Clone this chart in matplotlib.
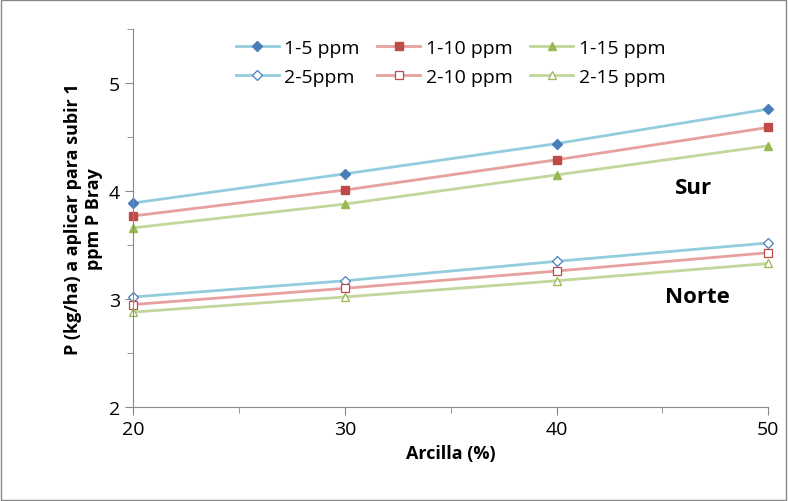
import matplotlib.pyplot as plt
from matplotlib.ticker import MultipleLocator

arcilla = [20, 30, 40, 50]
s1_5 = [3.89, 4.16, 4.44, 4.76]
s1_10 = [3.77, 4.01, 4.29, 4.59]
s1_15 = [3.66, 3.88, 4.15, 4.42]
s2_5 = [3.02, 3.17, 3.35, 3.52]
s2_10 = [2.95, 3.10, 3.26, 3.43]
s2_15 = [2.88, 3.02, 3.17, 3.33]
labels = ["1-5 ppm", "1-10 ppm", "1-15 ppm", "2-5ppm", "2-10 ppm", "2-15 ppm"]

plt.rcParams['font.family'] = ['Open Sans', 'DejaVu Sans']
fig = plt.figure(figsize=(7.88, 5.02), dpi=100)
ax = fig.add_axes([0.169, 0.187, 0.806, 0.753])

line_cols = ["#93CDDD", "#E6A09E", "#C3D69B"]
mark_cols = ["#4A7EBB", "#BE4B48", "#98B954"]
markers = ["D", "s", "^"]
sizes = [5, 6, 6]
handles = []
for i, ys in enumerate([s1_5, s1_10, s1_15]):
    h, = ax.plot(arcilla, ys, color=line_cols[i], lw=2, marker=markers[i], ms=sizes[i],
                 mfc=mark_cols[i], mec=mark_cols[i], label=labels[i])
    handles.append(h)
for i, ys in enumerate([s2_5, s2_10, s2_15]):
    h, = ax.plot(arcilla, ys, color=line_cols[i], lw=2, marker=markers[i], ms=sizes[i],
                 mfc="white", mec=mark_cols[i], mew=0.9, label=labels[i + 3])
    handles.append(h)

ax.set_xlim(20, 50); ax.set_ylim(2, 5.5)
ax.set_xticks(arcilla); ax.set_yticks([2, 3, 4, 5])
ax.xaxis.set_minor_locator(MultipleLocator(5))
ax.yaxis.set_minor_locator(MultipleLocator(0.5))
ax.tick_params(which="both", direction="out", labelsize=14, color="#888888")
ax.tick_params(which="major", length=6)
ax.tick_params(which="minor", length=4)
for s in ["top", "right"]:
    ax.spines[s].set_visible(False)
for s in ["left", "bottom"]:
    ax.spines[s].set_color("#888888")
for ln in ax.lines:
    ln.set_clip_on(False)

ax.set_xlabel("Arcilla (%)", fontsize=13, fontweight="bold", labelpad=4)
ax.set_ylabel("P (kg/ha) a aplicar para subir 1\nppm P Bray", fontsize=13, fontweight="bold")
ax.text(45.6, 3.98, "Sur", fontsize=16, fontweight="bold")
ax.text(45.1, 2.97, "Norte", fontsize=16, fontweight="bold")

order = [0, 3, 1, 4, 2, 5]
ax.legend([handles[k] for k in order], [labels[k] for k in order], ncol=3,
          loc="upper center", bbox_to_anchor=(0.5, 1.02), frameon=False,
          fontsize=14, handlelength=2.2, columnspacing=0.9, handletextpad=0.3,
          labelspacing=0.55)

fig.patches.append(plt.Rectangle((0.001, 0.001), 0.997, 0.997, transform=fig.transFigure,
                                 fill=False, ec="#888888", lw=1))
fig.savefig("out.png")
